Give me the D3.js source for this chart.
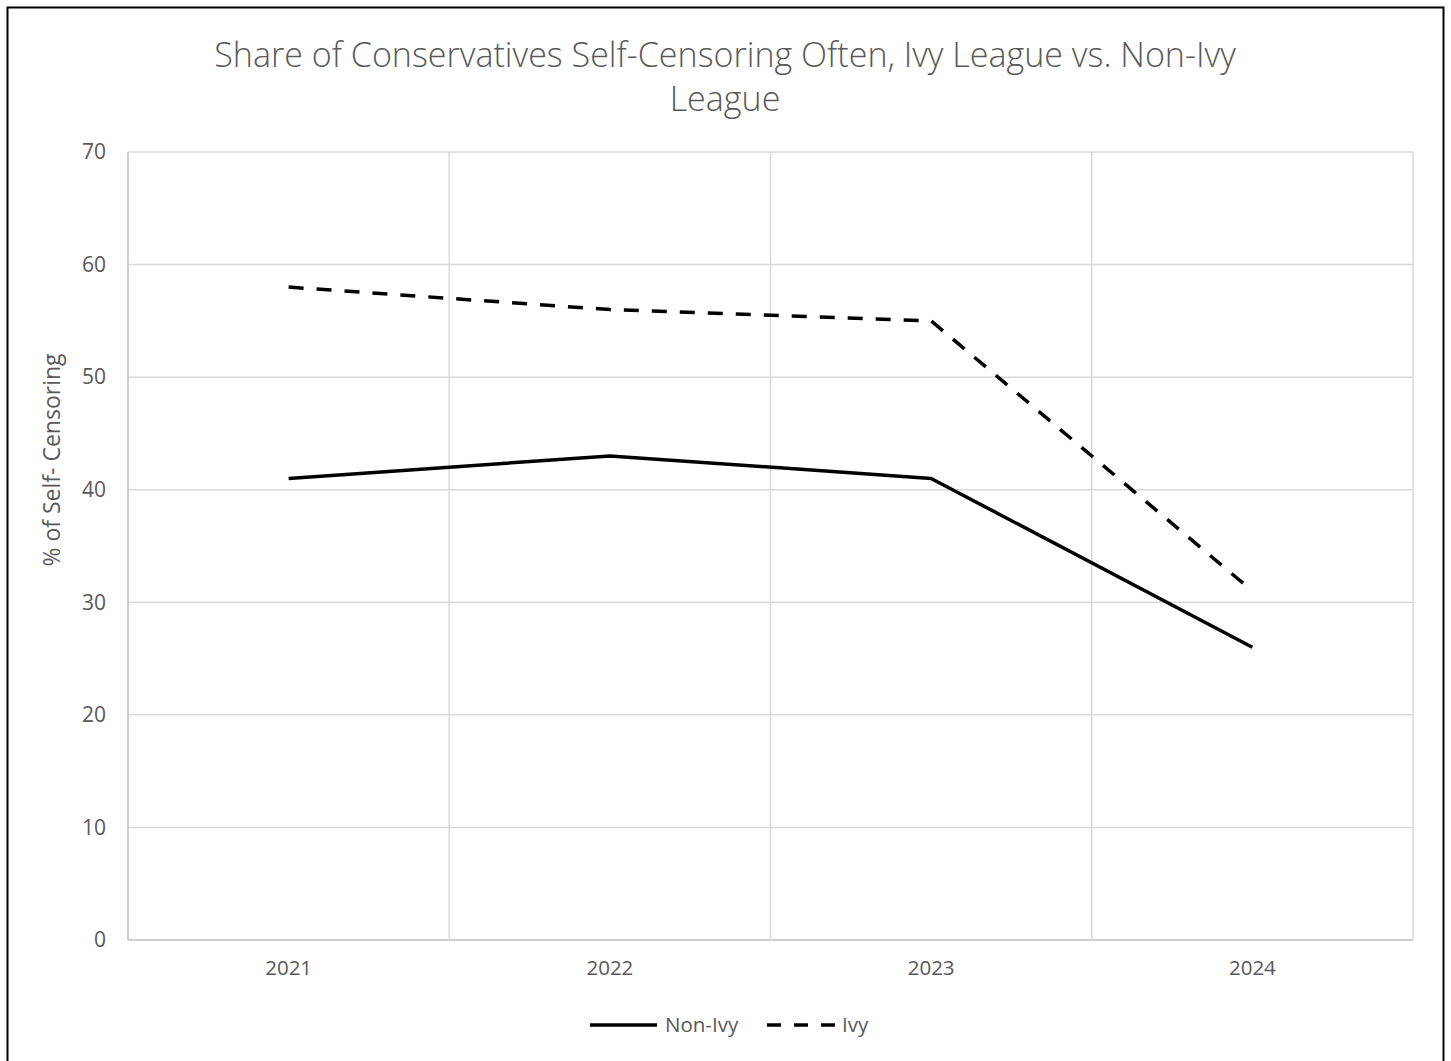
<!DOCTYPE html>
<html>
<head>
<meta charset="utf-8">
<script src="https://cdn.jsdelivr.net/npm/d3@7"></script>
<style>
  body { margin: 0; background: #fff; }
  text { font-family: "Open Sans", "Liberation Sans", sans-serif; }
</style>
</head>
<body>
<div class="grafico"></div>
<script>
// datos
var anios = ['2021', '2022', '2023', '2024'];
var nonIvy = [41, 43, 41, 26];
var ivy = [58, 56, 55, 31];
var yTicks = [0, 10, 20, 30, 40, 50, 60, 70];
var titulo = ['Share of Conservatives Self-Censoring Often, Ivy League vs. Non-Ivy', 'League'];

var ancho = 1451, alto = 1061;
var izq = 128, der = 1413, arriba = 152, abajo = 940;

var contenedor = d3
  .select('.grafico')
  .append('svg')
  .attr('width', ancho)
  .attr('height', alto);

// marco exterior
contenedor.append('rect')
  .attr('x', 7.5).attr('y', 7.5)
  .attr('width', 1436).attr('height', 1070)
  .attr('fill', 'none')
  .attr('stroke', '#000')
  .attr('stroke-width', 2);

const xScale = d3.scaleBand()
  .domain(anios)
  .range([izq, der]);

const yScale = d3.scaleLinear()
  .domain([0, 70])
  .range([abajo, arriba]);

// lineas de la grilla
contenedor.append('g')
  .selectAll('line')
  .data(yTicks)
  .enter()
  .append('line')
  .attr('x1', izq).attr('x2', der)
  .attr('y1', d => yScale(d)).attr('y2', d => yScale(d))
  .attr('stroke', d => d === 0 ? '#bfbfbf' : '#d9d9d9')
  .attr('stroke-width', 1.5);

var bordes = anios.map(d => xScale(d)).concat([der]);
contenedor.append('g')
  .selectAll('line')
  .data(bordes)
  .enter()
  .append('line')
  .attr('x1', d => d).attr('x2', d => d)
  .attr('y1', arriba).attr('y2', abajo)
  .attr('stroke', (d, i) => i === 0 ? '#bfbfbf' : '#d9d9d9')
  .attr('stroke-width', 1.5);

// ejes
const yAxis = d3.axisLeft(yScale).tickValues(yTicks).tickSize(0).tickPadding(22);
const xAxis = d3.axisBottom(xScale).tickSize(0).tickPadding(20);

var ejeY = contenedor.append('g')
  .attr('transform', 'translate(' + izq + ',0)')
  .call(yAxis);
var ejeX = contenedor.append('g')
  .attr('transform', 'translate(0,' + abajo + ')')
  .call(xAxis);

[ejeY, ejeX].forEach(function (eje) {
  eje.select('.domain').remove();
  eje.selectAll('text')
    .attr('fill', '#595959')
    .style('font-family', '"Open Sans", sans-serif');
});
ejeY.selectAll('text').style('font-size', '21px');
ejeX.selectAll('text').style('font-size', '20.5px');

// titulo del eje y
contenedor.append('text')
  .attr('transform', 'translate(60,' + 460 + ') rotate(-90)')
  .attr('text-anchor', 'middle')
  .attr('fill', '#595959')
  .style('font-size', '23px')
  .text('% of Self- Censoring');

// titulo
var tituloTxt = contenedor.append('text')
  .attr('text-anchor', 'middle')
  .attr('fill', '#595959')
  .style('font-size', '30px')
  .style('font-weight', 300);

titulo.forEach(function (t, i) {
  tituloTxt.append('tspan')
    .attr('x', 725)
    .attr('y', 67 + i * 44)
    .text(t);
});
var primera = tituloTxt.select('tspan').node().getComputedTextLength();
tituloTxt.style('font-size', (30 * 1022 / primera) + 'px');

// lineas de datos
var cx = d => xScale(d) + xScale.bandwidth() / 2;
var linea = d3.line()
  .x(d => cx(d.anio))
  .y(d => yScale(d.valor));

var series = [
  { nombre: 'Non-Ivy', valores: nonIvy, guion: null },
  { nombre: 'Ivy', valores: ivy, guion: '15,13' }
];

series.forEach(function (s) {
  contenedor.append('path')
    .datum(anios.map((a, i) => ({ anio: a, valor: s.valores[i] })))
    .attr('d', linea)
    .attr('fill', 'none')
    .attr('stroke', '#000')
    .attr('stroke-width', 3.5)
    .attr('stroke-linejoin', 'round')
    .attr('stroke-dasharray', s.guion);
});

// leyenda
var leyenda = contenedor.append('g');
var posLeyenda = [{ x1: 590, x2: 657, tx: 665 }, { x1: 767, x2: 836, tx: 842 }];
series.forEach(function (s, i) {
  var p = posLeyenda[i];
  leyenda.append('line')
    .attr('x1', p.x1).attr('x2', p.x2)
    .attr('y1', 1025).attr('y2', 1025)
    .attr('stroke', '#000')
    .attr('stroke-width', 3.5)
    .attr('stroke-dasharray', i === 1 ? '14,13' : null);
  leyenda.append('text')
    .attr('x', p.tx)
    .attr('y', 1032)
    .attr('fill', '#595959')
    .style('font-size', '20.5px')
    .text(s.nombre);
});
</script>
</body>
</html>
